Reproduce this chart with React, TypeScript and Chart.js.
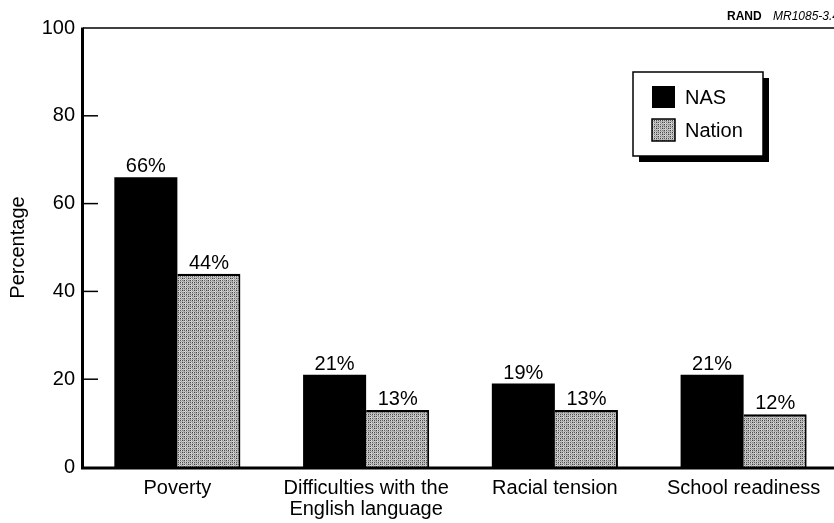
import React, { useEffect, useRef } from "react";
import { Chart, registerables } from "chart.js";

Chart.register(...registerables);

const categories: (string | string[])[] = [
  "Poverty",
  ["Difficulties with the", "English language"],
  "Racial tension",
  "School readiness",
];
const nasValues = [66, 21, 19, 21];
const nationValues = [44, 13, 13, 12];
const seriesLabels = ["NAS", "Nation"];
const yTicks = [0, 20, 40, 60, 80, 100];
const yTitle = "Percentage";
const sourceBold = "RAND";
const sourceItalic = "MR1085-3.4";

const FONT = '"Liberation Sans", Arial, Helvetica, sans-serif';

function makePattern(): CanvasPattern | string {
  const c = document.createElement("canvas");
  const n = 6;
  c.width = n;
  c.height = n;
  const g = c.getContext("2d");
  if (!g) return "#929292";
  const shades = [0x40, 0xc0, 0x80, 0xdc, 0x60, 0xa8, 0x50, 0xcc];
  for (let x = 0; x < n; x++) {
    for (let y = 0; y < n; y++) {
      const idx = (x * 3 + y * 5 + ((x * y) % 4)) % shades.length;
      const v = shades[idx];
      g.fillStyle = `rgb(${v},${v},${v})`;
      g.fillRect(x, y, 1, 1);
    }
  }
  const p = g.createPattern(c, "repeat");
  return p || "#929292";
}

export default function App() {
  const ref = useRef<HTMLCanvasElement | null>(null);

  useEffect(() => {
    if (!ref.current) return;
    const pattern = makePattern();

    const framePlugin = {
      id: "framePlugin",
      afterDatasetsDraw(chart: any) {
        const { ctx, chartArea } = chart;
        const ys = chart.scales.y;
        ctx.save();
        ctx.strokeStyle = "#000";
        ctx.lineWidth = 1.5;
        ctx.beginPath();
        ctx.moveTo(chartArea.left, chartArea.top);
        ctx.lineTo(chartArea.right + 10, chartArea.top);
        ctx.stroke();
        yTicks.forEach((t) => {
          if (t === 0 || t === 100) return;
          const y = ys.getPixelForValue(t);
          ctx.beginPath();
          ctx.moveTo(chartArea.left, y);
          ctx.lineTo(chartArea.left + 15, y);
          ctx.stroke();
        });
        ctx.lineWidth = 3;
        ctx.beginPath();
        ctx.moveTo(chartArea.left - 0.5, chartArea.top - 0.5);
        ctx.lineTo(chartArea.left - 0.5, chartArea.bottom + 2);
        ctx.stroke();
        ctx.beginPath();
        ctx.moveTo(chartArea.left - 2, chartArea.bottom + 1);
        ctx.lineTo(chartArea.right + 10, chartArea.bottom + 1);
        ctx.stroke();

        ctx.fillStyle = "#000";
        ctx.font = `20px ${FONT}`;
        ctx.textAlign = "center";
        ctx.textBaseline = "alphabetic";
        chart.data.datasets.forEach((ds: any, di: number) => {
          const meta = chart.getDatasetMeta(di);
          meta.data.forEach((bar: any, i: number) => {
            ctx.fillText(`${ds.data[i]}%`, bar.x, bar.y - 5);
          });
        });
        ctx.restore();
      },
      afterDraw(chart: any) {
        const { ctx } = chart;
        ctx.save();
        const lx = 633, ly = 72, lw = 130, lh = 84;
        ctx.fillStyle = "#000";
        ctx.fillRect(lx + 6, ly + 6, lw, lh);
        ctx.fillStyle = "#fff";
        ctx.fillRect(lx, ly, lw, lh);
        ctx.strokeStyle = "#000";
        ctx.lineWidth = 1.5;
        ctx.strokeRect(lx, ly, lw, lh);
        const ds = chart.data.datasets;
        const rows = [97, 130];
        ctx.font = `20px ${FONT}`;
        ctx.textAlign = "left";
        ctx.textBaseline = "middle";
        ds.forEach((d: any, i: number) => {
          const cy = rows[i];
          ctx.fillStyle = d.backgroundColor;
          ctx.fillRect(652, cy - 11, 23, 22);
          if (i === 1) {
            ctx.strokeStyle = "#000";
            ctx.lineWidth = 1.5;
            ctx.strokeRect(652, cy - 11, 23, 22);
          }
          ctx.fillStyle = "#000";
          ctx.fillText(d.label, 685, cy + 1);
        });
        ctx.textBaseline = "alphabetic";
        ctx.font = `bold 12px ${FONT}`;
        ctx.fillText(sourceBold, 727, 20);
        ctx.font = `italic 12px ${FONT}`;
        ctx.fillText(sourceItalic, 773, 20);
        ctx.restore();
      },
    };

    const chart = new Chart(ref.current, {
      type: "bar",
      data: {
        labels: categories,
        datasets: [
          {
            label: seriesLabels[0],
            data: nasValues,
            backgroundColor: "#000",
            borderWidth: 0,
            categoryPercentage: 0.668,
            barPercentage: 1.0,
          },
          {
            label: seriesLabels[1],
            data: nationValues,
            backgroundColor: pattern as any,
            borderColor: "#000",
            borderWidth: { top: 2.5, right: 2, left: 0, bottom: 0 } as any,
            borderSkipped: "bottom",
            categoryPercentage: 0.668,
            barPercentage: 1.0,
          },
        ],
      },
      options: {
        animation: false,
        responsive: true,
        maintainAspectRatio: false,
        layout: { padding: { top: 28, left: 0, right: 0, bottom: 0 } },
        plugins: {
          legend: { display: false },
          tooltip: { enabled: false },
        },
        scales: {
          x: {
            grid: { display: false, drawTicks: false },
            border: { display: false },
            ticks: {
              color: "#000",
              font: { family: FONT, size: 20, lineHeight: 1.05 },
              padding: 11,
              maxRotation: 0,
              autoSkip: false,
            },
            afterFit: (s: any) => {
              s.height = 56;
            },
          },
          y: {
            min: 0,
            max: 100,
            grid: { display: false, drawTicks: false },
            border: { display: false },
            afterBuildTicks: (s: any) => {
              s.ticks = yTicks.map((v) => ({ value: v }));
            },
            ticks: {
              color: "#000",
              font: { family: FONT, size: 20 },
              padding: 8,
            },
            title: {
              display: true,
              text: yTitle,
              color: "#000",
              font: { family: FONT, size: 20 },
              padding: { top: 6, bottom: 0 },
            },
            afterFit: (s: any) => {
              s.width = 83;
            },
          },
        },
      },
      plugins: [framePlugin],
    });
    return () => chart.destroy();
  }, []);

  return (
    <div
      style={{
        position: "fixed",
        left: 0,
        top: 0,
        width: 834,
        height: 523,
        overflow: "hidden",
        background: "#fff",
      }}
    >
      <div style={{ position: "relative", width: 838, height: 523 }}>
        <canvas ref={ref} />
      </div>
    </div>
  );
}
